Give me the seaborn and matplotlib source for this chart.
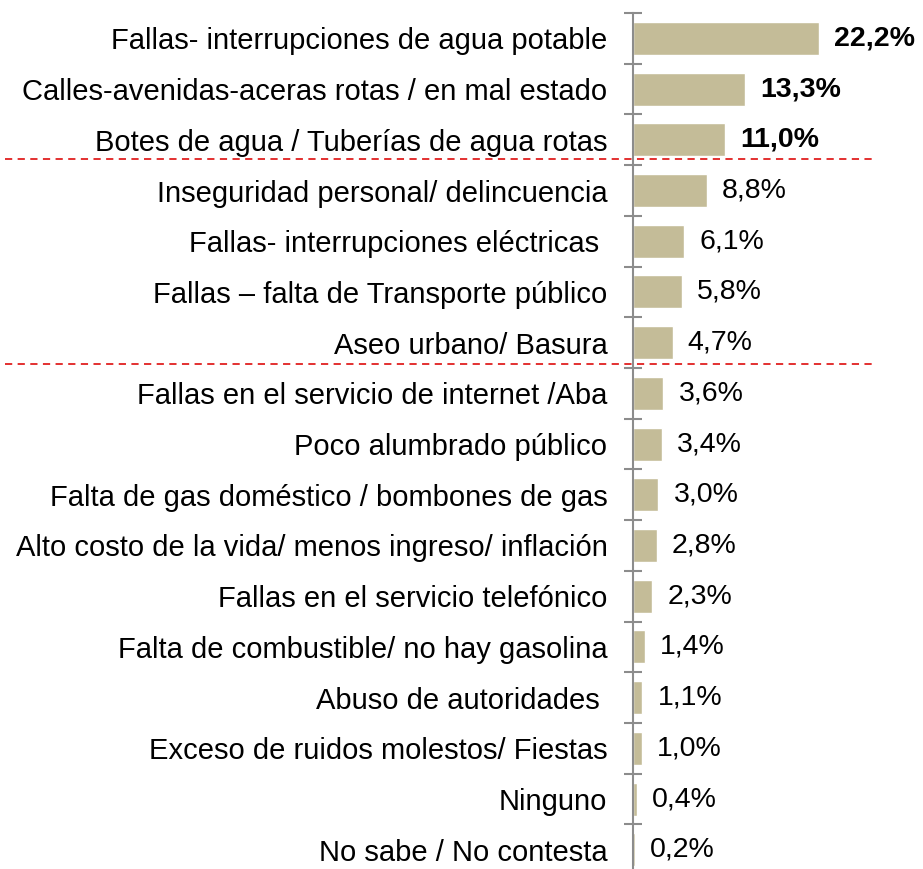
import matplotlib
matplotlib.use("Agg")
import matplotlib.pyplot as plt
import matplotlib.transforms as mtransforms
import seaborn as sns
import pandas as pd
import numpy as np

# --- datos ---
categorias = [
    "Fallas- interrupciones de agua potable",
    "Calles-avenidas-aceras rotas / en mal estado",
    "Botes de agua / Tuberías de agua rotas",
    "Inseguridad personal/ delincuencia",
    "Fallas- interrupciones eléctricas ",
    "Fallas – falta de Transporte público",
    "Aseo urbano/ Basura",
    "Fallas en el servicio de internet /Aba",
    "Poco alumbrado público",
    "Falta de gas doméstico / bombones de gas",
    "Alto costo de la vida/ menos ingreso/ inflación",
    "Fallas en el servicio telefónico",
    "Falta de combustible/ no hay gasolina",
    "Abuso de autoridades ",
    "Exceso de ruidos molestos/ Fiestas",
    "Ninguno",
    "No sabe / No contesta",
]
porcentajes = [22.2, 13.3, 11.0, 8.8, 6.1, 5.8, 4.7, 3.6, 3.4, 3.0, 2.8, 2.3, 1.4, 1.1, 1.0, 0.4, 0.2]
etiquetas = ["22,2%", "13,3%", "11,0%", "8,8%", "6,1%", "5,8%", "4,7%", "3,6%", "3,4%",
             "3,0%", "2,8%", "2,3%", "1,4%", "1,1%", "1,0%", "0,4%", "0,2%"]
n_negrita = 3
cortes = [2.38, 6.42]

df = pd.DataFrame({"categoria": categorias, "pct": porcentajes})

sns.set_style("white")
plt.rcParams["font.family"] = ["Liberation Sans", "DejaVu Sans"]

fig = plt.figure(figsize=(9.23, 8.69), dpi=100)
ax = fig.add_axes([0.686, -0.007, 0.314, 0.992])

sns.barplot(data=df, y="categoria", x="pct", orient="h", color="#C4BC98",
            saturation=1, width=0.65, ax=ax)

ax.set_xlim(0, 34.6)
ax.set_ylim(len(categorias) - 0.5, -0.5)
ax.set_xlabel("")
ax.set_ylabel("")
ax.set_xticks([])

for s in ["top", "right", "bottom"]:
    ax.spines[s].set_visible(False)
ax.spines["left"].set_color("#8c8c8c")
ax.spines["left"].set_linewidth(1.5)

ax.tick_params(axis="y", which="major", left=False, length=0, pad=18.5,
               labelsize=21, labelcolor="black")
ax.set_yticks(np.arange(len(categorias) + 1) - 0.5, minor=True)
ax.tick_params(axis="y", which="minor", left=True, direction="inout", length=13,
               width=1.5, color="#8c8c8c")

for i, (v, t) in enumerate(zip(porcentajes, etiquetas)):
    peso = "bold" if i < n_negrita else "normal"
    ax.annotate(t, xy=(v, i), xytext=(11, 0), textcoords="offset points",
                va="center", ha="left", fontsize=20.5, fontweight=peso, color="black")

tr = mtransforms.blended_transform_factory(fig.transFigure, ax.transData)
for y in cortes:
    ax.plot([0.005, 0.945], [y, y], transform=tr, color="#e02020", linestyle=(0, (4, 3)),
            linewidth=1.3, clip_on=False)

fig.savefig("out.png", dpi=100)
